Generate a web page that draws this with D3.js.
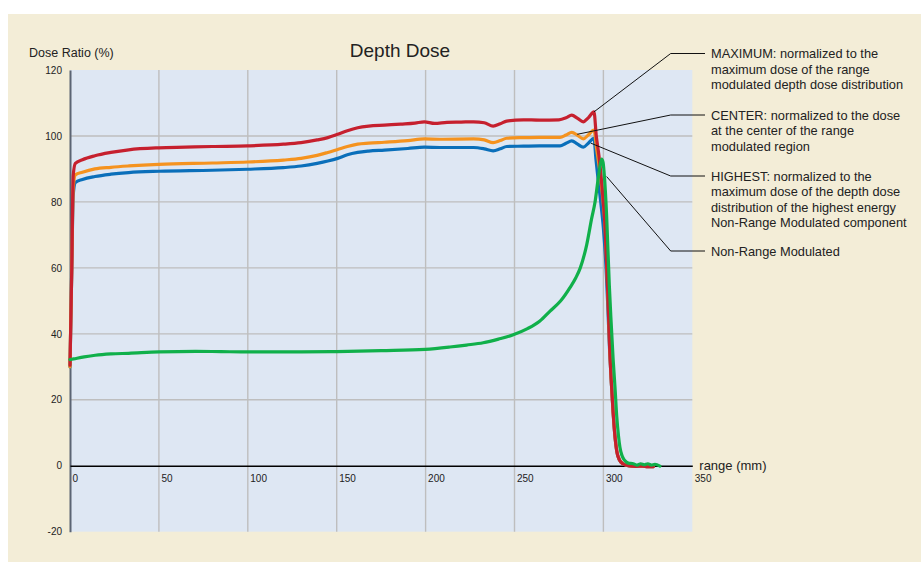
<!DOCTYPE html>
<html>
<head>
<meta charset="utf-8">
<script src="https://cdn.jsdelivr.net/npm/d3@7"></script>
<style>
  body { margin: 0; background: #fff; }
  text { font-family: "Liberation Sans", Arial, sans-serif; }
</style>
</head>
<body>
<div id="chart"></div>
<script>
// depth (mm) / dose ratio (%)
const maximumCurve = [
  [0, 30.5], [1, 60], [1.8, 88], [3, 91.7], [7, 92.8], [14, 94], [23, 95], [33, 95.8],
  [50, 96.4], [65, 96.6], [80, 96.8], [100, 97], [120, 97.5], [130, 98],
  [139, 98.8], [145, 99.5], [150.5, 100.5], [156, 101.6], [161.8, 102.5], [168, 103],
  [176.8, 103.3], [186, 103.6], [194, 103.9], [199.3, 104.3], [205, 103.8], [212, 104.1],
  [220, 104.2], [227, 104.3], [233, 104], [238, 103], [242, 103.7], [245.6, 104.5],
  [255, 104.9], [264, 104.8], [275, 104.9], [279, 105.5], [282.2, 106.3], [285.5, 105.3],
  [288.7, 104.3], [291.5, 105.5], [294.7, 107.3], [296, 100], [297.5, 94], [299.5, 83],
  [301, 72], [302.5, 52], [303.5, 36], [304.5, 25], [305.5, 16], [306.5, 9], [307.5, 4.5],
  [309, 1.8], [311, 0.6], [314, 0], [318, -0.2], [322, -0.1], [325, -0.3], [328, -0.3]
];

const centerCurve = [
  [0, 30], [1, 60], [1.8, 84], [3, 88.2], [7, 89], [14, 90], [23, 90.5], [33, 90.9],
  [50, 91.4], [80, 91.8], [100, 92.1], [120, 92.7], [130, 93.2], [139, 94.1],
  [145, 95], [150.5, 95.9], [156, 96.8], [161.8, 97.5], [168, 97.8], [176.8, 98.1],
  [190, 98.6], [199.3, 99.1], [208, 99], [227, 99.1], [233, 98.8], [238, 98], [242, 98.6],
  [245.6, 99.3], [255, 99.5], [264, 99.6], [275.6, 99.6], [279, 100.3], [282.2, 101.1],
  [285.5, 100.2], [288.7, 99.1], [291.5, 100.3], [294.7, 101.8], [296.2, 96], [297.8, 90],
  [299.5, 82], [301, 72], [302.5, 52], [303.5, 36], [304.5, 25], [305.5, 16], [306.5, 9],
  [307.5, 4.5], [309, 1.8], [311, 0.6], [314, 0], [318, -0.2], [322, -0.1], [325, -0.3],
  [328, -0.3]
];

const highestCurve = [
  [0, 30], [1, 60], [1.8, 82], [3, 85.9], [7, 86.8], [14, 87.7], [23, 88.4], [33, 88.9],
  [50, 89.3], [80, 89.6], [100, 89.9], [120, 90.4], [130, 90.9], [139, 91.7],
  [145, 92.4], [150.5, 93.2], [156, 94.3], [161.8, 95], [168, 95.4], [176.8, 95.7],
  [190, 96.2], [199.3, 96.6], [208, 96.5], [227, 96.5], [233, 96.1], [238, 95.5],
  [242, 96.1], [245.6, 96.8], [255, 96.9], [264, 97], [275.6, 97], [279, 97.8],
  [282.2, 98.5], [285.5, 97.5], [288.7, 96.6], [291.5, 97.8], [294.7, 99.3], [295.8, 93],
  [297, 87], [298.5, 80], [300, 72], [301.5, 60], [302.5, 48], [303.5, 35], [304.5, 25],
  [305.5, 16], [306.5, 9], [307.5, 4.5], [309, 1.8], [311, 0.6], [314, 0], [318, -0.2],
  [322, -0.1], [325, -0.3], [328, -0.3]
];

const nonModulatedCurve = [
  [0, 32.2], [2, 32.4], [8, 33], [14.2, 33.5], [23, 33.9], [33, 34.1], [50, 34.5],
  [70.6, 34.7], [85, 34.6], [100.6, 34.5], [130, 34.5], [150, 34.6], [175, 34.9],
  [199.8, 35.3], [213.7, 36], [223, 36.6], [232.4, 37.3], [241, 38.4], [249.3, 39.7],
  [257, 41.5], [264.3, 43.9], [270, 46.9], [276, 50], [281.2, 54], [284.5, 57], [287, 60],
  [290.6, 67], [293.4, 75], [295.3, 80], [297.1, 87.2], [298.3, 91.5], [299, 93],
  [299.8, 92], [300.6, 87.5], [301.8, 76], [303.3, 55], [304.2, 45], [305.5, 32],
  [306.5, 24], [307.5, 15], [308.5, 9], [309.3, 5.6], [310.5, 3], [312, 1.6], [314, 0.8],
  [316.8, 0.6], [319, 0.2], [321, 0.6], [323, 0.3], [325, 0.6], [327, 0.2], [329, 0.4],
  [331.8, -0.1]
];

const xTicks = [0, 50, 100, 150, 200, 250, 300, 350];
const yTicks = [-20, 0, 20, 40, 60, 80, 100, 120];

// label lines and the point on the curve each leader line goes to
const annotationLabels = [
  ["MAXIMUM: normalized to the", "maximum dose of the range", "modulated depth dose distribution"],
  ["CENTER: normalized to the dose", "at the center of the range", "modulated region"],
  ["HIGHEST: normalized to the", "maximum dose of the depth dose", "distribution of the highest energy", "Non-Range Modulated component"],
  ["Non-Range Modulated"]
];
const annotationTargets = [[294.7, 107.3], [285.3, 100.5], [293, 97.8], [301.8, 87.7]];

class DepthDoseChart {
  constructor(_config) {
    this.config = {
      parentElement: _config.parentElement,
      containerWidth: _config.containerWidth || 921,
      containerHeight: _config.containerHeight || 562,
      plot: { left: 70, top: 70, right: 692.3, bottom: 531.7 },
    };
    this.initVis();
  }

  initVis() {
    let vis = this;
    const p = vis.config.plot;

    vis.x = d3.scaleLinear().domain([0, 350]).range([p.left, p.right]);
    vis.y = d3.scaleLinear().domain([-20, 120]).range([p.bottom, p.top]);

    vis.svg = d3
      .select(vis.config.parentElement)
      .append("svg")
      .attr("width", vis.config.containerWidth)
      .attr("height", vis.config.containerHeight);

    // beige panel behind everything
    vis.svg
      .append("rect")
      .attr("x", 8)
      .attr("y", 14)
      .attr("width", vis.config.containerWidth - 8)
      .attr("height", vis.config.containerHeight - 14)
      .attr("fill", "#f3edd7");

    vis.svg
      .append("rect")
      .attr("x", p.left)
      .attr("y", p.top)
      .attr("width", p.right - p.left)
      .attr("height", p.bottom - p.top)
      .attr("fill", "#dee7f3");

    vis.renderVis();
  }

  renderVis() {
    let vis = this;
    const p = vis.config.plot;

    // grid
    const grid = vis.svg.append("g").attr("stroke", "#bebebe").attr("stroke-width", 1.4);
    grid
      .selectAll(".vgrid")
      .data(xTicks.filter((d) => d > 0 && d < 350))
      .join("line")
      .attr("x1", (d) => vis.x(d))
      .attr("x2", (d) => vis.x(d))
      .attr("y1", p.top)
      .attr("y2", p.bottom);
    grid
      .selectAll(".hgrid")
      .data(yTicks.filter((d) => d > -20 && d < 120 && d !== 0))
      .join("line")
      .attr("x1", p.left)
      .attr("x2", p.right)
      .attr("y1", (d) => vis.y(d))
      .attr("y2", (d) => vis.y(d));

    // y axis (plain hyphen for negatives, like the original)
    const yAxis = vis.svg
      .append("g")
      .attr("transform", `translate(${p.left},0)`)
      .call(
        d3
          .axisLeft(vis.y)
          .tickValues(yTicks)
          .tickFormat((d) => String(d))
          .tickSize(0)
          .tickPadding(8)
      );
    yAxis.select(".domain").attr("stroke", "#5b6473").attr("stroke-width", 2);
    yAxis
      .selectAll("text")
      .attr("font-size", 10)
      .attr("fill", "#222")
      .attr("font-family", "Liberation Sans, Arial, sans-serif");

    // x axis sits on the zero line
    const xAxis = vis.svg
      .append("g")
      .attr("transform", `translate(0,${vis.y(0)})`)
      .call(
        d3
          .axisBottom(vis.x)
          .tickValues(xTicks)
          .tickFormat((d) => String(d))
          .tickSize(0)
          .tickPadding(9)
      );
    xAxis.select(".domain").attr("stroke", "#000").attr("stroke-width", 1.5);
    xAxis
      .selectAll("text")
      .attr("text-anchor", "start")
      .attr("x", 2)
      .attr("font-size", 10)
      .attr("fill", "#222")
      .attr("font-family", "Liberation Sans, Arial, sans-serif");

    vis.svg
      .append("text")
      .attr("x", p.right + 7)
      .attr("y", vis.y(0) + 4.5)
      .attr("font-size", 13)
      .attr("fill", "#222")
      .text("range (mm)");

    vis.svg
      .append("text")
      .attr("x", 29)
      .attr("y", 57)
      .attr("font-size", 12.5)
      .attr("fill", "#222")
      .text("Dose Ratio (%)");

    vis.svg
      .append("text")
      .attr("x", 400)
      .attr("y", 57)
      .attr("text-anchor", "middle")
      .attr("font-size", 19)
      .attr("fill", "#222")
      .text("Depth Dose");

    // curves
    const line = d3
      .line()
      .x((d) => vis.x(d[0]))
      .y((d) => vis.y(d[1]))
      .curve(d3.curveMonotoneX);

    const series = [
      { data: highestCurve, color: "#0a6fba" },
      { data: centerCurve, color: "#f5931f" },
      { data: maximumCurve, color: "#c6202e" },
      { data: nonModulatedCurve, color: "#10b04a" },
    ];

    vis.svg
      .append("g")
      .selectAll("path")
      .data(series)
      .join("path")
      .attr("d", (d) => line(d.data))
      .attr("fill", "none")
      .attr("stroke", (d) => d.color)
      .attr("stroke-width", 3.2)
      .attr("stroke-linejoin", "round")
      .attr("stroke-linecap", "round");

    // annotations
    const labelX = 711;
    const elbowX = 670.7;
    const labelTops = [58, 119.5, 180.5, 255.5];
    const lineGap = 15.5;

    annotationLabels.forEach((lines, i) => {
      const t = annotationTargets[i];
      const ly = labelTops[i] - 4.5;
      vis.svg
        .append("polyline")
        .attr("points", `${labelX - 6},${ly} ${elbowX},${ly} ${vis.x(t[0])},${vis.y(t[1])}`)
        .attr("fill", "none")
        .attr("stroke", "#111")
        .attr("stroke-width", 1);

      vis.svg
        .append("g")
        .selectAll("text")
        .data(lines)
        .join("text")
        .attr("x", labelX)
        .attr("y", (d, j) => labelTops[i] + j * lineGap)
        .attr("font-size", 12.8)
        .attr("fill", "#222")
        .text((d) => d);
    });
  }
}

new DepthDoseChart({ parentElement: "#chart" });
</script>
</body>
</html>
